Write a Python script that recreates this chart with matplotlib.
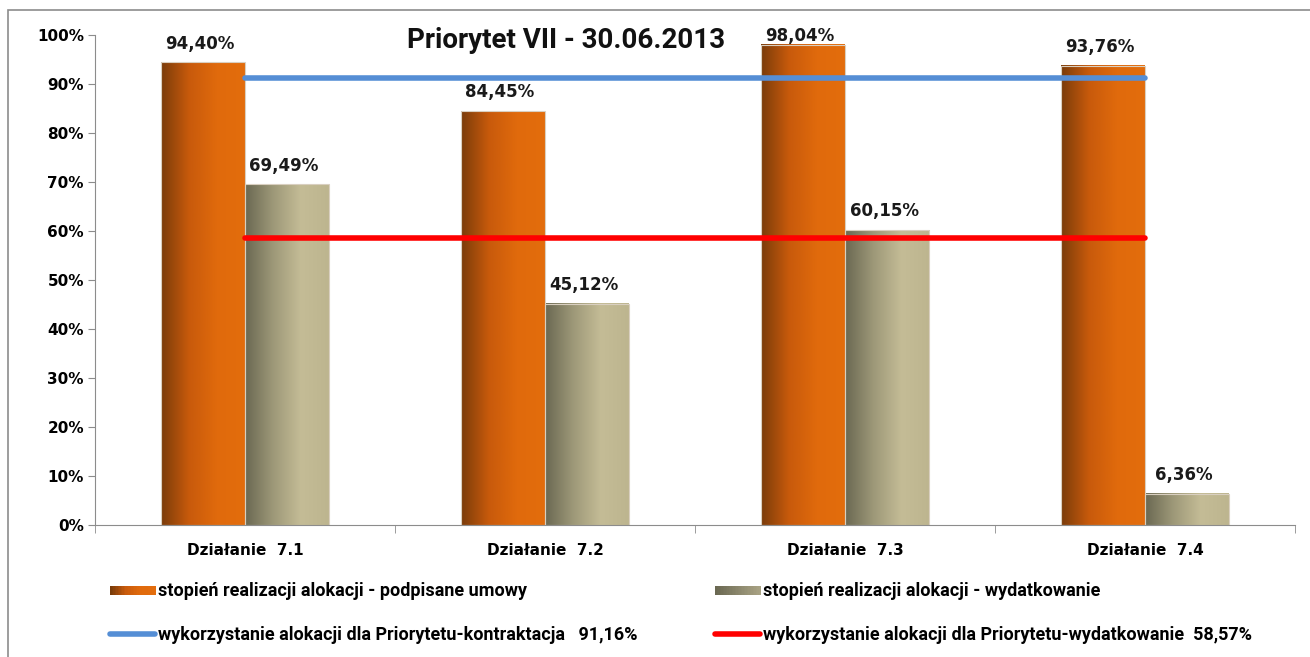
import numpy as np
import matplotlib.pyplot as plt
from matplotlib.patches import Rectangle
from matplotlib.colors import LinearSegmentedColormap
from matplotlib.lines import Line2D
from matplotlib.legend_handler import HandlerPatch

categories = ['Działanie  7.1', 'Działanie  7.2', 'Działanie  7.3', 'Działanie  7.4']
umowy = [94.40, 84.45, 98.04, 93.76]          # stopień realizacji - podpisane umowy
wydatki = [69.49, 45.12, 60.15, 6.36]         # stopień realizacji - wydatkowanie
kontraktacja = 91.16
wydatkowanie = 58.57

label_umowy = 'stopień realizacji alokacji - podpisane umowy'
label_wydatki = 'stopień realizacji alokacji - wydatkowanie'
label_kontr = 'wykorzystanie alokacji dla Priorytetu-kontraktacja   91,16%'
label_wyd = 'wykorzystanie alokacji dla Priorytetu-wydatkowanie  58,57%'
title = 'Priorytet VII - 30.06.2013'

orange_cmap = LinearSegmentedColormap.from_list('or', ['#7a3c0a', '#c85a0c', '#e06a0c', '#e36d0d'])
gray_cmap = LinearSegmentedColormap.from_list('gr', ['#6a6852', '#9d9878', '#c4bc96', '#bdb58f'])
gray_leg = LinearSegmentedColormap.from_list('gl', ['#6a6852', '#8a866c', '#a8a283'])

narrow = 'Roboto'

fig = plt.figure(figsize=(13.1, 6.57), dpi=100)
# outer chart frame
fig.patches.append(Rectangle((8 / 1310, -0.1), 1.2, 1 - 10 / 657 + 0.1, transform=fig.transFigure,
                             fill=False, edgecolor='#8c8c8c', linewidth=1.2))

ax = fig.add_axes([95 / 1310, 132 / 657, 1200 / 1310, 490 / 657])

x = np.arange(len(categories))
w = 0.28
grad = np.linspace(0, 1, 256).reshape(1, -1)


def gradient_bar(xl, h, cmap):
    ax.imshow(grad, cmap=cmap, aspect='auto', extent=(xl, xl + w, 0, h), zorder=2,
              interpolation='bicubic')
    ax.add_patch(Rectangle((xl, 0), w, h, fill=False, edgecolor='#d9cfc0', linewidth=0.8, zorder=2.1))


def value_label(xc, h):
    off = 2.0 if h + 2.0 < 100 else 0.0
    ax.text(xc - 0.01, h + off, f'{h:.2f}%'.replace('.', ','), ha='center', va='bottom',
            fontsize=12, fontweight='bold', family='DejaVu Sans', color='#1a1a1a')


for i in range(len(categories)):
    gradient_bar(x[i] - w, umowy[i], orange_cmap)
    gradient_bar(x[i], wydatki[i], gray_cmap)
    value_label(x[i] - w / 2, umowy[i])
    value_label(x[i] + w / 2, wydatki[i])

ax.plot(x, [kontraktacja] * len(x), color='#558ed5', linewidth=4, solid_capstyle='round', zorder=3)
ax.plot(x, [wydatkowanie] * len(x), color='#ff0000', linewidth=4, solid_capstyle='round', zorder=3)

ax.set_xlim(-0.5, len(categories) - 0.5)
ax.set_ylim(0, 100)
ax.set_yticks(np.arange(0, 101, 10))
ax.set_yticklabels([f'{v}%' for v in range(0, 101, 10)], fontsize=11, fontweight='bold',
                   family='DejaVu Sans')
ax.set_xticks(x)
ax.set_xticklabels(categories, fontsize=11, fontweight='bold', family='DejaVu Sans')
ax.set_xticks(np.arange(-0.5, len(categories), 1), minor=True)
ax.tick_params(axis='x', which='major', length=0, pad=13)
ax.tick_params(axis='x', which='minor', length=6, color='#8c8c8c')
ax.tick_params(axis='y', length=5, color='#8c8c8c', pad=3)
for s in ['top', 'right']:
    ax.spines[s].set_visible(False)
ax.spines['left'].set_color('#8c8c8c')
ax.spines['bottom'].set_color('#8c8c8c')

ax.text(1.07, 98.8, title, ha='center', va='center', fontsize=20, fontweight='bold',
        family=narrow, color='#111111')


class GradHandler(HandlerPatch):
    def __init__(self, cmap):
        super().__init__()
        self.cmap = cmap

    def create_artists(self, legend, orig_handle, xdescent, ydescent, width, height, fontsize, trans):
        arts = []
        n = 30
        for k in range(n):
            r = Rectangle((-xdescent + width * k / n, -ydescent + height * 0.1), width / n + 0.3,
                          height * 0.75, facecolor=self.cmap(k / (n - 1)), edgecolor='none', transform=trans)
            arts.append(r)
        return arts


h1 = Rectangle((0, 0), 1, 1)
h2 = Rectangle((0, 0), 1, 1)
h3 = Line2D([0], [0], color='#558ed5', linewidth=4, solid_capstyle='round')
h4 = Line2D([0], [0], color='#ff0000', linewidth=4, solid_capstyle='round')
leg_prop = {'family': narrow, 'weight': 'bold', 'size': 13}
leg1 = fig.legend([h1, h3], [label_umowy, label_kontr], loc='upper left',
                  bbox_to_anchor=(94 / 1310, 1 - 566 / 657), frameon=False, handlelength=2.5,
                  handletextpad=0.15, labelspacing=1.45, prop=leg_prop,
                  handler_map={h1: GradHandler(orange_cmap)})
leg2 = fig.legend([h2, h4], [label_wydatki, label_wyd], loc='upper left',
                  bbox_to_anchor=(699 / 1310, 1 - 566 / 657), frameon=False, handlelength=2.5,
                  handletextpad=0.15, labelspacing=1.45, prop=leg_prop,
                  handler_map={h2: GradHandler(gray_leg)})

fig.savefig('out.png', dpi=100)
